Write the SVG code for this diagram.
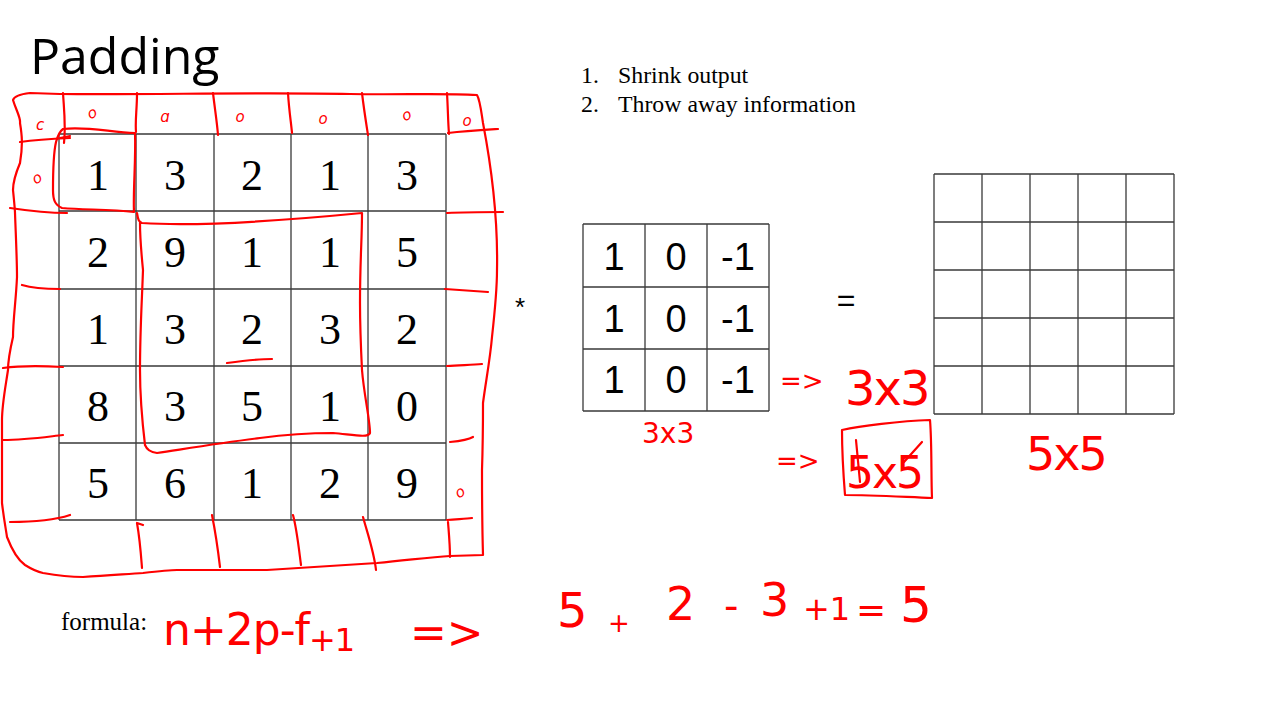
<svg xmlns="http://www.w3.org/2000/svg" width="1280" height="720" viewBox="0 0 1280 720">
<style>
.grid{stroke:#3a3a3a;stroke-width:1.3;fill:none}
.num{font-family:"Liberation Serif",serif;font-size:44px;fill:#000;text-anchor:middle}
.knum{font-family:"Liberation Sans",sans-serif;font-size:38px;fill:#000;text-anchor:middle}
.serif{font-family:"Liberation Serif",serif;fill:#000}
.ink{fill:none;stroke:#f00;stroke-width:2.2;stroke-linecap:round;stroke-linejoin:round}
.hw{font-family:"DejaVu Sans",sans-serif;fill:#f00;font-weight:normal}
.zero{font-family:"DejaVu Sans",sans-serif;fill:#f00;font-size:15px;font-style:italic;text-anchor:middle}
</style>
<rect width="1280" height="720" fill="#fff"/>

<g id="title">
<text x="30" y="74" font-family="Open Sans, Liberation Sans, sans-serif" font-size="50" fill="#000">Padding</text>
</g>

<g id="list">
<text class="serif" x="581" y="83" font-size="23.8">1.</text>
<text class="serif" x="618" y="83" font-size="23.8">Shrink output</text>
<text class="serif" x="581" y="112" font-size="23.8">2.</text>
<text class="serif" x="618" y="112" font-size="23.8">Throw away information</text>
</g>

<g id="input-grid">
<path class="grid" d="M59 134H446M59 211H446M59 289H446M59 366H446M59 443H446M59 520H446M59 134V520M136 134V520M214 134V520M291 134V520M368 134V520M446 134V520"/>
<text class="num" x="98" y="190">1</text><text class="num" x="175" y="190">3</text><text class="num" x="252" y="190">2</text><text class="num" x="330" y="190">1</text><text class="num" x="407" y="190">3</text>
<text class="num" x="98" y="267">2</text><text class="num" x="175" y="267">9</text><text class="num" x="252" y="267">1</text><text class="num" x="330" y="267">1</text><text class="num" x="407" y="267">5</text>
<text class="num" x="98" y="344">1</text><text class="num" x="175" y="344">3</text><text class="num" x="252" y="344">2</text><text class="num" x="330" y="344">3</text><text class="num" x="407" y="344">2</text>
<text class="num" x="98" y="421">8</text><text class="num" x="175" y="421">3</text><text class="num" x="252" y="421">5</text><text class="num" x="330" y="421">1</text><text class="num" x="407" y="421">0</text>
<text class="num" x="98" y="498">5</text><text class="num" x="175" y="498">6</text><text class="num" x="252" y="498">1</text><text class="num" x="330" y="498">2</text><text class="num" x="407" y="498">9</text>
</g>

<g id="operator-star"><text x="520" y="316" font-family="Liberation Sans, sans-serif" font-size="26" text-anchor="middle" fill="#000">*</text></g>

<g id="kernel">
<path class="grid" d="M583 224H769M583 287H769M583 349H769M583 411H769M583 224V411M645 224V411M707 224V411M769 224V411"/>
<text class="knum" x="614" y="270">1</text><text class="knum" x="676" y="270">0</text><text class="knum" x="738" y="270">-1</text>
<text class="knum" x="614" y="332">1</text><text class="knum" x="676" y="332">0</text><text class="knum" x="738" y="332">-1</text>
<text class="knum" x="614" y="393">1</text><text class="knum" x="676" y="393">0</text><text class="knum" x="738" y="393">-1</text>
</g>

<g id="operator-equals"><text x="846" y="311" font-family="Liberation Sans, sans-serif" font-size="32" text-anchor="middle" fill="#000">=</text></g>

<g id="output-grid">
<path class="grid" d="M934 174H1174M934 222H1174M934 270H1174M934 318H1174M934 366H1174M934 414H1174M934 174V414M982 174V414M1030 174V414M1078 174V414M1126 174V414M1174 174V414"/>
</g>

<g id="connectors"></g>

<g id="padding-ink">
<path class="ink" d="M30 93C22 94 14 96 13 100C16 110 21 118 20 123C22 135 23 145 20 163C15 175 13 185 13 190C14 200 15 210 15 213C16 240 17 260 17 277C16 300 13 320 13 337C10 350 8 360 8 370C5 390 2 405 2 420C2 450 2 480 2 503C4 520 6 530 7 537C12 550 18 560 25 565C33 570 38 572 43 573C60 576 72 577 83 577C110 575 130 574 143 573C160 571 170 570 177 570C210 570 240 570 267 570C310 567 350 565 377 563C410 560 430 557 450 556L483 555C482 520 482 490 482 470C483 440 483 420 483 403C486 380 490 360 492 337C495 310 497 290 497 270C498 220 492 170 483 123C481 110 480 100 477 95C440 93 400 95 350 94C250 92 150 95 60 94Z"/>
<path class="ink" d="M63 93C64 110 66 125 64 143M137 93C137 110 135 120 136 132M213 93C215 110 217 122 218 135M288 93C289 110 291 122 292 133M362 93C364 110 366 122 368 135M447 93C448 110 448 122 449 134"/>
<path class="ink" d="M20 142C35 140 50 139 70 138M448 133C465 131 482 130 498 129"/>
<path class="ink" d="M10 208C30 211 50 213 67 213M447 213C465 212 485 212 503 212"/>
<path class="ink" d="M22 285C35 289 48 289 60 289M445 289C460 290 475 291 488 292"/>
<path class="ink" d="M3 368C25 365 45 366 63 367M447 366C460 365 472 365 482 364"/>
<path class="ink" d="M3 440C25 440 45 437 63 435M450 442C460 441 468 440 473 437"/>
<path class="ink" d="M10 522C35 522 55 520 70 515M447 520C458 519 466 519 472 518"/>
<path class="ink" d="M137 523L143 525M137 523C140 540 141 555 142 568M212 515C215 530 218 550 220 567M293 515C297 530 299 550 301 565M363 517C368 535 374 552 376 570M448 522C449 535 450 545 450 557"/>
<path class="ink" d="M60 138L70 136M63 129C85 126 110 132 135 133C136 160 133 190 134 212C110 209 85 210 62 208C55 205 53 200 53 190C53 170 53 155 56 142C58 135 60 131 63 129Z"/>
<path class="ink" d="M137 213C138 220 139 222 142 223C200 227 290 220 362 213C362 240 360 260 360 303C360 330 361 350 362 370C364 395 370 420 370 433C368 438 355 435 333 433C310 433 290 434 260 438C220 443 190 448 157 453C150 452 147 450 145 445C142 420 140 395 140 370C140 330 142 300 143 270C141 250 140 235 140 223"/>
<path class="ink" d="M227 363C242 361 257 359 272 359"/>
<text class="zero" x="40" y="130">c</text>
<text class="zero" x="92" y="118" transform="rotate(-20 92 113)">o</text>
<text class="zero" x="165" y="122">ɑ</text>
<text class="zero" x="240" y="122" font-size="10">o</text>
<text class="zero" x="323" y="124" font-size="12">o</text>
<text class="zero" x="407" y="120" transform="rotate(-20 407 116)">o</text>
<text class="zero" x="467" y="126" font-size="11">o</text>
<text class="zero" x="37" y="183" transform="rotate(-30 37 178)">o</text>
<text class="zero" x="460" y="497" font-size="13" transform="rotate(-30 460 492)">o</text>
</g>

<g id="annotations">
<text class="hw" x="780" y="390" font-size="26">=&gt;</text>
<text class="hw" x="845" y="405" font-size="48" letter-spacing="-2">3x3</text>
<text class="hw" x="642" y="443" font-size="28">3x3</text>
<text class="hw" x="776" y="470" font-size="26">=&gt;</text>
<path class="ink" d="M842 430C860 426 900 421 930 420C932 445 931 475 932 498C905 497 870 495 845 495C843 470 842 450 842 430Z"/>
<text class="hw" x="846" y="488" font-size="44" letter-spacing="-2">5x5</text>
<path class="ink" d="M856 440L860 482M904 462L922 442"/>
<text class="hw" x="1026" y="470" font-size="46" letter-spacing="-2">5x5</text>
</g>

<g id="formula">
<text class="serif" x="61" y="630" font-size="25">formula:</text>
<text class="hw" x="163" y="645" font-size="44" letter-spacing="-1">n+2p-f<tspan font-size="32" dy="6">+1</tspan></text>
<text class="hw" x="410" y="648" font-size="44">=&gt;</text>
<text class="hw" x="557" y="627" font-size="48">5</text>
<text class="hw" x="608" y="632" font-size="26">+</text>
<text class="hw" x="666" y="620" font-size="46">2</text>
<text class="hw" x="724" y="620" font-size="40">-</text>
<text class="hw" x="760" y="616" font-size="46">3</text>
<text class="hw" x="803" y="620" font-size="32">+1</text>
<text class="hw" x="856" y="622" font-size="36">=</text>
<text class="hw" x="900" y="622" font-size="50">5</text>
</g>
</svg>
